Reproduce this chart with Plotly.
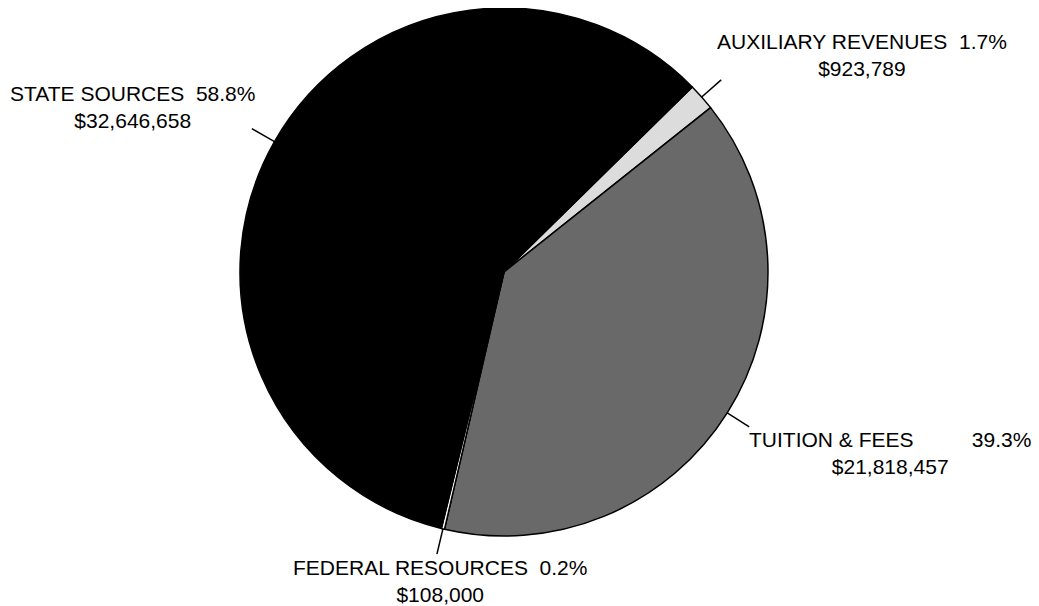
import math
import plotly.graph_objects as go

# revenue sources (clockwise from the top-right)
labels = ["AUXILIARY REVENUES", "TUITION & FEES", "FEDERAL RESOURCES", "STATE SOURCES"]
values = [923789, 21818457, 108000, 32646658]
pcts = ["1.7%", "39.3%", "0.2%", "58.8%"]
money = ["$923,789", "$21,818,457", "$108,000", "$32,646,658"]
gaps = [2, 10, 2, 2]  # spaces between name and percent
colors = ["#dcdcdc", "#696969", "#ffffff", "#000000"]

W, H = 1039, 606
off = 8  # page body margin
cx, cy, R = 504 - off, 272 - off, 264
rotation = 45.5

fig = go.Figure(go.Pie(
    labels=labels,
    values=values,
    sort=False,
    direction="clockwise",
    rotation=rotation,
    marker=dict(colors=colors, line=dict(color="black", width=1.5)),
    textinfo="none",
    hoverinfo="label+value+percent",
    domain=dict(x=[(cx - 400) / W, (cx + 400) / W],
                y=[max(0.0, 1 - (cy + R) / H), min(1.0, 1 - (cy - R) / H)]),
    showlegend=False,
))

# label positions (pixel centres in the page)
label_pos = [(862, 55), (890, 453), (440, 581), (132, 107)]

total = sum(values)
cum = 0
shapes = []
annotations = []
for i, v in enumerate(values):
    mid = rotation + (cum + v / 2) / total * 360
    cum += v
    a = math.radians(mid)
    x0, y0 = cx + R * math.sin(a), cy - R * math.cos(a)
    x1, y1 = cx + (R + 26) * math.sin(a), cy - (R + 26) * math.cos(a)
    shapes.append(dict(type="line", xref="paper", yref="paper",
                       x0=x0 / W, y0=1 - y0 / H, x1=x1 / W, y1=1 - y1 / H,
                       line=dict(color="black", width=1.5)))
    lx, ly = label_pos[i]
    txt = labels[i] + "\u00a0" * gaps[i] + pcts[i] + "<br>" + money[i]
    annotations.append(dict(text=txt, xref="paper", yref="paper",
                            x=(lx - off) / W, y=1 - (ly - off) / H,
                            xanchor="center", yanchor="middle",
                            align="center", showarrow=False,
                            font=dict(family="Liberation Sans, Arial", size=21, color="black")))

fig.update_layout(
    width=W, height=H,
    margin=dict(l=0, r=0, t=0, b=0),
    paper_bgcolor="white",
    plot_bgcolor="white",
    shapes=shapes,
    annotations=annotations,
)

fig.write_html("out.html")
